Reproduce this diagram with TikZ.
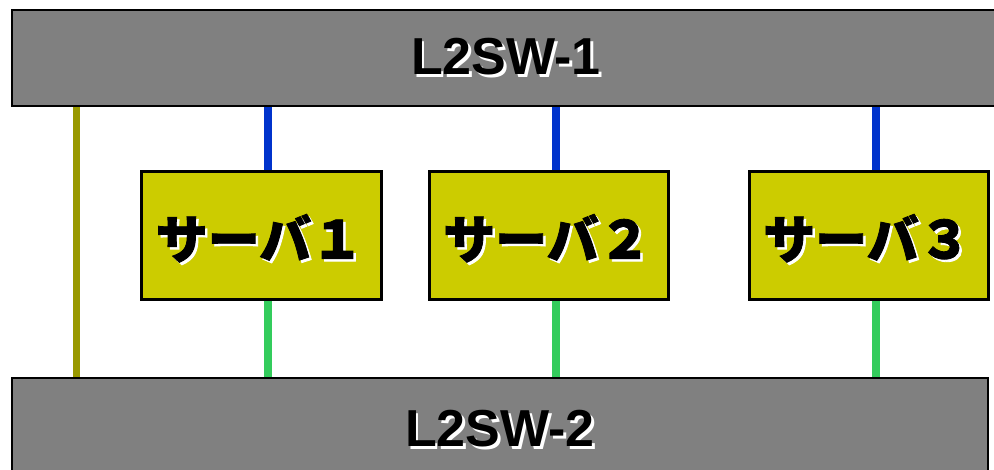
\documentclass[tikz,border=0pt]{standalone}
\usepackage{fontspec}
\setmainfont{Liberation Sans}
\newfontfamily\jpfont{Noto Sans CJK JP}[BoldFeatures={FakeBold=1.6}]
\usetikzlibrary{calc}
\definecolor{swgray}{HTML}{808080}
\definecolor{srvyellow}{HTML}{CCCC00}
\definecolor{olivelink}{HTML}{999900}
\definecolor{bluelink}{HTML}{0033CC}
\definecolor{greenlink}{HTML}{33CC5C}
% black label with a white drop shadow
\newcommand\shadowlabel[1]{\rlap{\kern2.5pt\raisebox{-2.5pt}{\color{white}#1}}#1}
\tikzset{
  x=1pt, y=-1pt,
  switchbox/.style={draw=black, line width=2pt, fill=swgray},
  serverbox/.style={draw=black, line width=2pt, fill=srvyellow},
  swlabel/.style={font=\fontsize{52}{52}\selectfont\bfseries, inner sep=0pt},
  srvlabel/.style={font=\jpfont\fontsize{52}{52}\selectfont\bfseries, inner sep=0pt},
  olivewire/.style={draw=olivelink, line width=7pt},
  bluewire/.style={draw=bluelink, line width=7.5pt},
  greenwire/.style={draw=greenlink, line width=7.5pt},
}
\begin{document}
\begin{tikzpicture}
\useasboundingbox (0,0) rectangle (994,470);
\begin{scope}
\clip (0,0) rectangle (994,470);
% switches
\path[switchbox] (12,10) rectangle (1004,106);
\coordinate (sw1) at (506,58);
\coordinate (sw1b) at (0,106);
\path[switchbox] (12,378) rectangle (988,482);
\coordinate (sw2) at (500,430);
\coordinate (sw2t) at (0,378);
% servers
\node[serverbox, minimum width=239pt, minimum height=127pt, inner sep=0pt, anchor=north west] (s1) at (141,171) {};
\node[serverbox, minimum width=238pt, minimum height=127pt, inner sep=0pt, anchor=north west] (s2) at (429,171) {};
\node[serverbox, minimum width=238pt, minimum height=127pt, inner sep=0pt, anchor=north west] (s3) at (749,171) {};
% links
\draw[olivewire] (76,106) -- (76,378);
\draw[bluewire] (sw1b -| 268,0) -- (s1.north -| 268,0);
\draw[bluewire] (sw1b -| 556,0) -- (s2.north -| 556,0);
\draw[bluewire] (sw1b -| 876,0) -- (s3.north -| 876,0);
\draw[greenwire] (s1.south -| 268,0) -- (sw2t -| 268,0);
\draw[greenwire] (s2.south -| 556,0) -- (sw2t -| 556,0);
\draw[greenwire] (s3.south -| 876,0) -- (sw2t -| 876,0);
% redraw box outlines over the link ends
\draw[black, line width=2pt] (12,10) rectangle (1004,106);
\draw[black, line width=2pt] (12,378) rectangle (988,482);
\draw[black, line width=2pt] (s1.north west) rectangle (s1.south east);
\draw[black, line width=2pt] (s2.north west) rectangle (s2.south east);
\draw[black, line width=2pt] (s3.north west) rectangle (s3.south east);
% labels
\node[swlabel] (t1) at (sw1) {\shadowlabel{L2SW-1}};
\node[swlabel] (t2) at (sw2) {\shadowlabel{L2SW-2}};
\node[srvlabel] (l1) at ($(s1)+(-2,4)$) {\shadowlabel{サーバ１}};
\node[srvlabel] (l2) at ($(s2)+(-2,4)$) {\shadowlabel{サーバ２}};
\node[srvlabel] (l3) at ($(s3)+(-2,4)$) {\shadowlabel{サーバ３}};
\end{scope}
\end{tikzpicture}
\end{document}
